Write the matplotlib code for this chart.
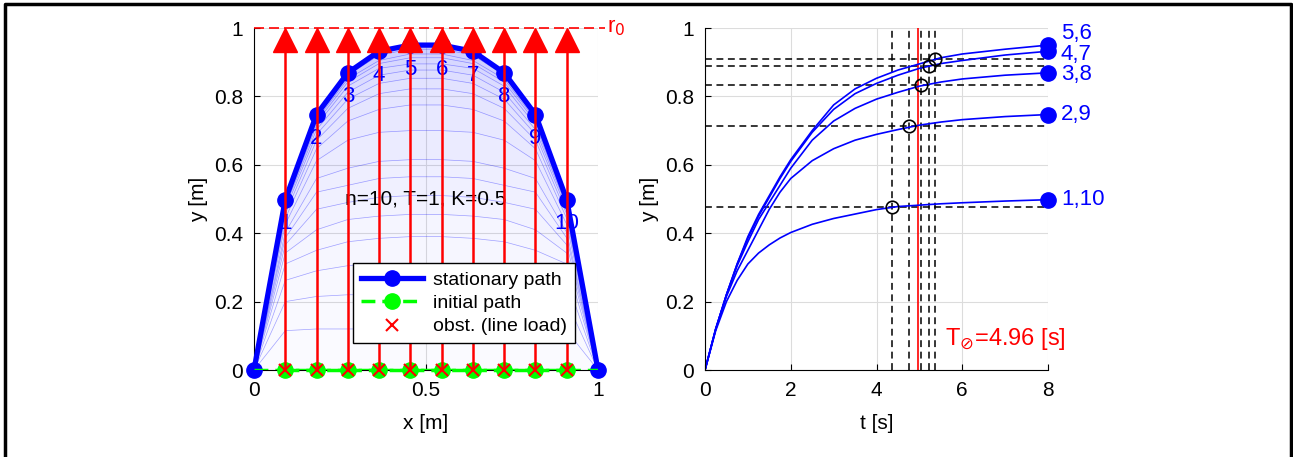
import numpy as np
import matplotlib.pyplot as plt
from matplotlib.lines import Line2D

plt.rcParams['font.family'] = ['Liberation Sans', 'DejaVu Sans']
plt.rcParams['mathtext.fontset'] = 'dejavusans'

# node positions (10 nodes between two fixed ends)
n_nodes = 10
x_nodes = [i / 11 for i in range(1, 11)]

# node trajectories (symmetric pairs 1/10, 2/9, ...)
t_samples = [0, 0.25, 0.5, 0.75, 1, 1.25, 1.5, 1.75, 2, 2.5, 3, 3.5, 4, 4.5, 5, 5.5, 6, 7, 8]
y_1_10 = [0, .115, .2, .262, .31, .342, .366, .386, .402, .426, .443, .456, .469, .478, .482, .486, .489, .494, .498]
y_2_9 = [0, .12, .215, .29, .35, .41, .47, .52, .56, .612, .647, .672, .689, .703, .716, .725, .732, .741, .747]
y_3_8 = [0, .12, .22, .305, .375, .44, .49, .54, .59, .672, .728, .765, .792, .812, .83, .842, .851, .862, .869]
y_4_7 = [0, .12, .22, .31, .385, .45, .505, .56, .61, .695, .762, .808, .838, .862, .882, .896, .905, .921, .932]
y_5_6 = [0, .12, .22, .31, .39, .455, .51, .565, .615, .70, .775, .822, .853, .877, .895, .913, .924, .938, .95]
pair_labels = ['1,10', '2,9', '3,8', '4,7', '5,6']

# 95% settling points
settle_t = [4.35, 4.76, 5.03, 5.23, 5.36]
settle_y = [0.478, 0.714, 0.832, 0.888, 0.91]
T_avg = 4.96

curves = [y_1_10, y_2_9, y_3_8, y_4_7, y_5_6]
order = [0, 1, 2, 3, 4, 4, 3, 2, 1, 0]   # node i -> curve index
x_path = [0] + x_nodes + [1]

fig = plt.figure(figsize=(12.93, 4.57), dpi=100)
W, H = 1293, 457
ax1 = fig.add_axes([254 / W, 1 - 370 / H, 344 / W, 342 / H])
ax2 = fig.add_axes([705 / W, 1 - 370 / H, 343 / W, 342 / H])

grid_kw = dict(color='#dcdcdc', lw=0.8)
fs = 15
dash = (0, (4.5, 3))

# ---------- left: path shapes ----------
snaps = []
for k in range(len(t_samples)):
    snaps.append([0] + [curves[c][k] for c in order] + [0])
snaps = np.array(snaps)
nk = len(snaps)
for k in range(nk - 1):
    a = 0.02 + 0.2 * (k / (nk - 1)) ** 1.5
    ax1.fill_between(x_path, snaps[k], snaps[k + 1], color='blue', alpha=a, lw=0)
for k in range(nk):
    ax1.plot(x_path, snaps[k], color='blue', lw=0.5, alpha=0.35)

y_stat = snaps[-1]
ax1.plot(x_path, y_stat, '-o', color='blue', lw=3.8, ms=11, clip_on=False, zorder=4)
ax1.plot(x_nodes, [0] * n_nodes, '--o', color=(0, 1, 0), lw=2.5, ms=11,
         dashes=(4, 2), zorder=5, clip_on=False)
ax1.plot([0, 1], [0, 0], '--', color=(0, 1, 0), lw=2.5, dashes=(4, 2), zorder=4.5)
ax1.vlines(x_nodes, 0, 0.93, color='red', lw=1.8, zorder=6)
ax1.plot(x_nodes, [0.966] * n_nodes, '^', color='red', ms=17, zorder=6, clip_on=False)
ax1.plot(x_nodes, [0] * n_nodes, 'x', color='red', ms=8, mew=1.5, zorder=7, clip_on=False)
ax1.plot([0, 1.02], [1, 1], color='red', lw=1.2, ls=(0, (6, 3)), clip_on=False, zorder=6)
ax1.text(1.025, 1.0, r'r$_0$', color='red', fontsize=fs + 1, va='center', ha='left')

for i, (xn, yn) in enumerate(zip(x_nodes, y_stat[1:-1])):
    ax1.text(xn, yn - 0.07, str(i + 1), color='blue', fontsize=fs + 1,
             ha='center', va='center', zorder=5)
ax1.text(0.5, 0.5, 'n=10, T=1, K=0.5', fontsize=fs, ha='center', va='center', zorder=5)

handles = [Line2D([], [], color='blue', lw=3.8, marker='o', ms=11),
           Line2D([], [], color=(0, 1, 0), lw=2.5, ls='--', marker='o', ms=11, dashes=(4, 2)),
           Line2D([], [], color='red', lw=0, marker='x', ms=8, mew=1.5)]
leg = ax1.legend(handles, ['stationary path', 'initial path', 'obst. (line load)'],
                 loc='lower right', bbox_to_anchor=(0.96, 0.05), fontsize=fs - 1,
                 fancybox=False, framealpha=1, edgecolor='black', handlelength=3.2,
                 borderpad=0.4, labelspacing=0.3, handletextpad=0.5)
leg.set_zorder(10)

ax1.set_xlim(0, 1)
ax1.set_ylim(0, 1)
ax1.set_xticks([0, 0.5, 1])
ax1.set_xticklabels(['0', '0.5', '1'])
ax1.set_yticks([0, 0.2, 0.4, 0.6, 0.8, 1])
ax1.set_yticklabels(['0', '0.2', '0.4', '0.6', '0.8', '1'])
ax1.grid(True, **grid_kw)
ax1.set_axisbelow(True)
ax1.set_xlabel('x [m]', fontsize=fs, labelpad=10)
ax1.set_ylabel('y [m]', fontsize=fs)

# ---------- right: node trajectories ----------
ax2.hlines(settle_y, 0, 8, colors='black', linestyles=dash, lw=1.1)
ax2.vlines(settle_t, 0, 1, colors='black', linestyles=dash, lw=1.1)
ax2.axvline(T_avg, color='red', lw=1.2)
label_dy = [0, 0, -0.005, -0.01, 0.035]
for c, lab, dy in zip(curves, pair_labels, label_dy):
    ax2.plot(t_samples, c, color='blue', lw=1.2)
    ax2.plot(t_samples[-1], c[-1], 'o', color='blue', ms=11, clip_on=False)
    ax2.text(8.3, c[-1] + dy, lab, color='blue', fontsize=fs + 1, va='center', ha='left')
ax2.plot(settle_t, settle_y, 'o', mfc='none', mec='black', ms=9, mew=1.2)
ax2.text(5.6, 0.09, r'T$_{\oslash}$=4.96 [s]', color='red', fontsize=fs + 2,
         ha='left', va='center')

ax2.set_xlim(0, 8)
ax2.set_ylim(0, 1)
ax2.set_xticks([0, 2, 4, 6, 8])
ax2.set_yticks([0, 0.2, 0.4, 0.6, 0.8, 1])
ax2.set_yticklabels(['0', '0.2', '0.4', '0.6', '0.8', '1'])
ax2.grid(True, **grid_kw)
ax2.set_axisbelow(True)
ax2.set_xlabel('t [s]', fontsize=fs, labelpad=10)
ax2.set_ylabel('y [m]', fontsize=fs)

for ax in (ax1, ax2):
    ax.spines['top'].set_visible(False)
    ax.spines['right'].set_visible(False)
    ax.tick_params(direction='in', length=4, labelsize=fs, pad=8)

# outer frame
fig.add_artist(Line2D([5 / W, 5 / W, 1291 / W, 1291 / W], [0, 1 - 4 / H, 1 - 4 / H, 0],
                      color='black', lw=2.5))

fig.savefig('out.png', dpi=100)
